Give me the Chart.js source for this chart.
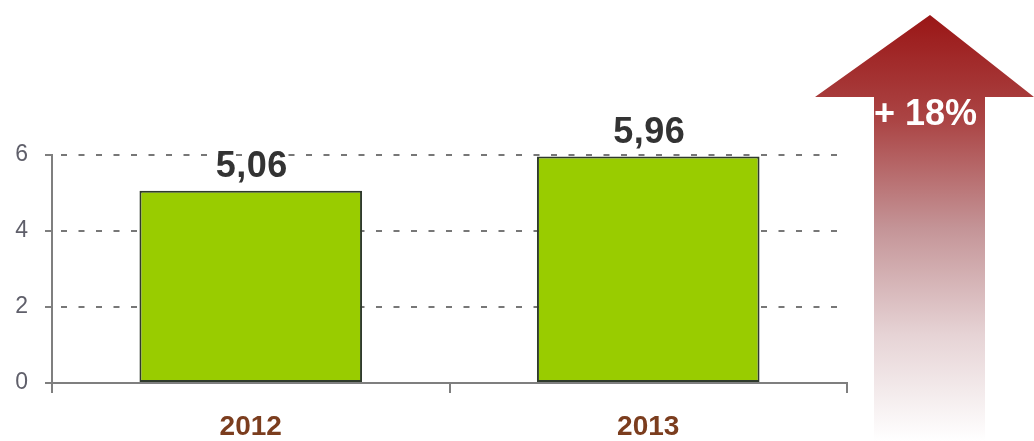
<!DOCTYPE html>
<html>
<head>
<meta charset="utf-8">
<script src="https://cdn.jsdelivr.net/npm/chart.js@4"></script>
<style>
  html, body { margin: 0; padding: 0; background: #ffffff; }
  #wrap { width: 1034px; height: 441px; position: relative; }
</style>
</head>
<body>
<div id="wrap"><canvas id="c" width="1034" height="441"></canvas></div>
<script>
const categories = ['2012', '2013'];
const values = [5.06, 5.96];
const yTicks = [0, 2, 4, 6];

const FONT = '"Liberation Sans", Arial, sans-serif';

function fmt(v) { return v.toFixed(2).replace('.', ','); }

const valueLabels = {
  id: 'valueLabels',
  afterDatasetsDraw(chart) {
    const ctx = chart.ctx;
    const meta = chart.getDatasetMeta(0);
    ctx.save();
    ctx.font = 'bold 36px ' + FONT;
    if ('letterSpacing' in ctx) ctx.letterSpacing = '0.5px';
    ctx.fillStyle = '#333333';
    ctx.textAlign = 'center';
    ctx.textBaseline = 'alphabetic';
    meta.data.forEach((bar, i) => {
      ctx.fillText(fmt(values[i]), bar.x + 1, bar.y - 14);
    });
    ctx.restore();
  }
};

const growthArrow = {
  id: 'growthArrow',
  afterDraw(chart) {
    const ctx = chart.ctx;
    ctx.save();
    const g = ctx.createLinearGradient(0, 15, 0, 441);
    g.addColorStop(0, '#9a1616');
    g.addColorStop(0.25, '#ab4545');
    g.addColorStop(0.5, '#c49497');
    g.addColorStop(0.75, '#e6d3d5');
    g.addColorStop(1, '#ffffff');
    ctx.fillStyle = g;
    ctx.beginPath();
    ctx.moveTo(930, 15);
    ctx.lineTo(1034, 97);
    ctx.lineTo(985, 97);
    ctx.lineTo(985, 441);
    ctx.lineTo(874, 441);
    ctx.lineTo(874, 97);
    ctx.lineTo(815, 97);
    ctx.closePath();
    ctx.fill();
    const pct = Math.round((values[1] / values[0] - 1) * 100);
    ctx.font = 'bold 36px ' + FONT;
    ctx.fillStyle = '#ffffff';
    ctx.textAlign = 'left';
    ctx.textBaseline = 'alphabetic';
    ctx.fillText('+ ' + pct + '%', 874, 125);
    ctx.restore();
  }
};

new Chart(document.getElementById('c'), {
  type: 'bar',
  data: {
    labels: categories,
    datasets: [{
      data: values,
      backgroundColor: '#99cc00',
      borderColor: '#2f3a2c',
      borderWidth: 2,
      borderSkipped: false,
      barPercentage: 0.56,
      categoryPercentage: 1.0
    }]
  },
  options: {
    responsive: false,
    animation: false,
    events: [],
    layout: { padding: { top: 155, right: 187, bottom: 0, left: 0 } },
    plugins: { legend: { display: false }, tooltip: { enabled: false } },
    scales: {
      x: {
        offset: true,
        grid: {
          display: true, drawOnChartArea: false, drawTicks: true, offset: true,
          tickLength: 10, color: '#7f7f7f', lineWidth: 2
        },
        border: { display: true, color: '#7f7f7f', width: 2 },
        ticks: {
          color: '#7b3d1e', padding: 17,
          font: { family: FONT, size: 28, weight: 'bold' }
        },
        afterFit(scale) { scale.height = 58; }
      },
      y: {
        min: 0, max: 6,
        afterBuildTicks(scale) { scale.ticks = yTicks.map(v => ({ value: v })); },
        grid: {
          color: '#777777', lineWidth: 2,
          drawTicks: true, tickLength: 7, tickBorderDash: [], tickColor: '#7f7f7f', tickWidth: 2
        },
        border: { display: true, color: '#7f7f7f', width: 2, dash: [6, 11.5], dashOffset: -8 },
        ticks: {
          color: '#5f5f6a', padding: 17,
          font: { family: FONT, size: 23 }
        },
        afterFit(scale) { scale.width = 52; }
      }
    }
  },
  plugins: [valueLabels, growthArrow]
});
</script>
</body>
</html>
